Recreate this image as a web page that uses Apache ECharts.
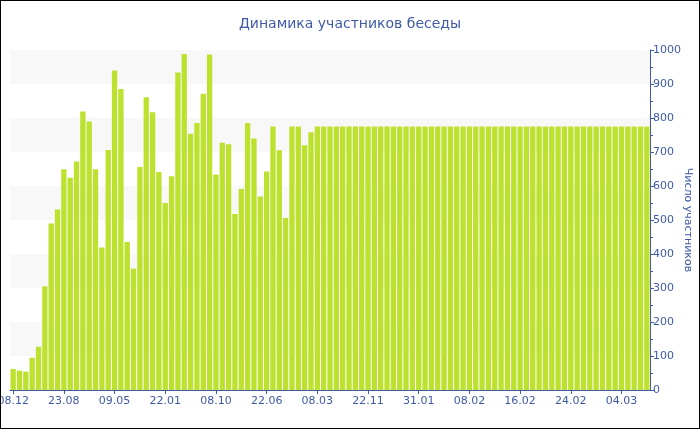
<!DOCTYPE html>
<html>
<head>
<meta charset="utf-8">
<script src="https://cdn.jsdelivr.net/npm/echarts@6/dist/echarts.min.js"></script>
<style>
html,body{margin:0;padding:0;background:#fff;}
#wrap{position:relative;width:700px;height:430px;}
#chart{position:absolute;left:0;top:0;width:700px;height:430px;}
#frame{position:absolute;left:0;top:0;width:700px;height:429px;box-sizing:border-box;border:1px solid #000;pointer-events:none;}
</style>
</head>
<body>
<div id="wrap"><div id="chart"></div><div id="frame"></div></div>
<script>
var titleText = 'Динамика участников беседы';
var yAxisName = 'Число участников';
var tickLabels = ['08.12','23.08','09.05','22.01','08.10','22.06','08.03','22.11','31.01','08.02','16.02','24.02','04.03'];
var participants = [
  62, 57, 54, 95, 127, 305, 490, 531, 649, 624,
  672, 819, 790, 649, 419, 706, 940, 885, 435, 357,
  656, 861, 817, 641, 550, 629, 934, 988, 754, 785,
  871, 987, 634, 727, 723, 518, 591, 785, 740, 569,
  643, 775, 705, 506, 775, 775, 720, 758, 775, 775,
  775, 775, 775, 775, 775, 775, 775, 775, 775, 775,
  775, 775, 775, 775, 775, 775, 775, 775, 775, 775,
  775, 775, 775, 775, 775, 775, 775, 775, 775, 775,
  775, 775, 775, 775, 775, 775, 775, 775, 775, 775,
  775, 775, 775, 775, 775, 775, 775, 775, 775, 775,
  775
];
var labelStep = 8;
var categories = participants.map(function(_, i){ return String(i); });

var blue = '#3f5aa6';
var font = 'DejaVu Sans';
var chart = echarts.init(document.getElementById('chart'));
chart.setOption({
  animation: false,
  backgroundColor: '#fff',
  title: {
    text: titleText, left: 'center', top: 12,
    textStyle: {color: blue, fontSize: 14, fontWeight: 'normal', fontFamily: font}
  },
  grid: {left: 10, right: 50, top: 50, bottom: 40, containLabel: false, outerBoundsMode: 'none'},
  xAxis: {
    type: 'category',
    data: categories,
    boundaryGap: true,
    axisLine: {lineStyle: {color: blue, width: 1}},
    axisTick: {show: true, alignWithLabel: true, interval: labelStep - 1, length: 4, lineStyle: {color: blue}},
    axisLabel: {
      interval: labelStep - 1, color: blue, fontSize: 11, fontFamily: font, margin: 6,
      formatter: function(v, i){ return i % labelStep === 0 ? (tickLabels[i / labelStep] || '') : ''; }
    },
    splitLine: {show: false}
  },
  yAxis: {
    type: 'value',
    position: 'right',
    min: 0, max: 1000, interval: 100,
    name: yAxisName,
    nameLocation: 'middle',
    nameRotate: -90,
    nameGap: 32,
    nameMoveOverlap: false,
    nameTextStyle: {color: blue, fontSize: 11, fontFamily: font},
    axisLine: {show: true, lineStyle: {color: blue}},
    axisTick: {show: true, length: 4, lineStyle: {color: blue}},
    minorTick: {show: true, splitNumber: 2, length: 3, lineStyle: {color: blue}},
    axisLabel: {color: blue, fontSize: 11, fontFamily: font, margin: 3, formatter: function(v){ return String(v); }},
    splitLine: {show: false},
    splitArea: {show: true, areaStyle: {color: ['rgba(255,255,255,0)', '#f8f8f8']}}
  },
  series: [{
    type: 'bar',
    data: participants,
    barCategoryGap: '16%',
    itemStyle: {color: '#bde12f'}
  }]
});
</script>
</body>
</html>
